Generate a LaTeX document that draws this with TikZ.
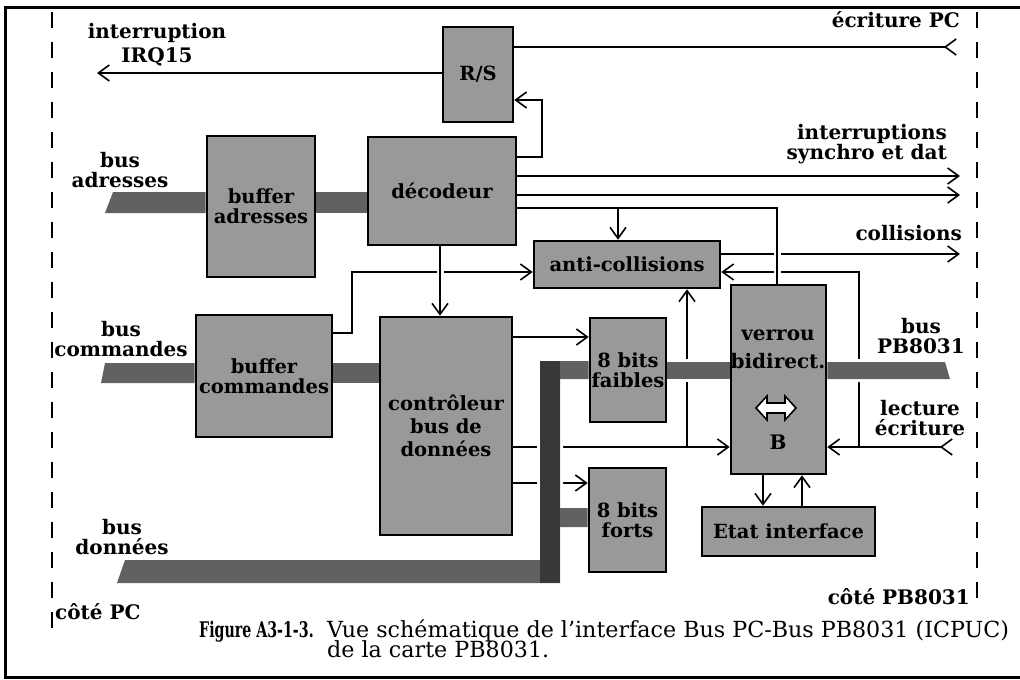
\documentclass[tikz,border=0pt]{standalone}
\usepackage{fontspec}
\setmainfont{DejaVu Serif}
\usepackage{tikz}
\usetikzlibrary{arrows.meta, positioning, backgrounds}
\definecolor{blkc}{gray}{0.60}
\definecolor{busc}{gray}{0.38}
\definecolor{busdk}{gray}{0.22}

\begin{document}
\begin{tikzpicture}[x=1pt, y=-1pt,
    sbarb/.tip={Straight Barb[length=11pt, width=16pt]},
    rbarb/.tip={Straight Barb[reversed, length=11pt, width=16pt]},
    blk/.style={draw, line width=2.6pt, fill=blkc, inner sep=0pt, align=center,
      font=\fontsize{19.5}{20}\selectfont\bfseries},
    lab/.style={inner sep=0pt, align=center, font=\fontsize{20}{20}\selectfont\bfseries},
    wire/.style={line width=1.6pt},
    sig/.style={wire, -sbarb},
    hop/.style={preaction={draw=white, line width=7pt, -, shorten <=12pt, shorten >=8pt}},
    bus/.style={fill=busc, preaction={draw=white, line width=6pt}}]
  \useasboundingbox (0,0) rectangle (1020,680);
  % frame and the two sides
  \draw[line width=3pt] (1030,7) -- (5,7) -- (5,677) -- (1030,677);
  \draw[line width=2pt, dash pattern=on 16pt off 14pt] (52,12) -- (52,640);
  \draw[line width=2pt, dash pattern=on 16pt off 14pt] (977,12) -- (977,606);

  % blocks
  \node[blk, minimum width=70pt, minimum height=95pt] (rs) at (478,74.5) {R/S};
  \node[blk, minimum width=108pt, minimum height=141pt] (bufa) at (261,206.5) {buffer\\adresses};
  \node[blk, minimum width=148pt, minimum height=108pt] (dec) at (442,191) {décodeur};
  \node[blk, minimum width=186pt, minimum height=47pt] (anti) at (627,264.5) {anti-collisions};
  \node[blk, minimum width=136pt, minimum height=122pt] (bufc) at (264,376) {buffer\\commandes};
  \node[blk, minimum width=132pt, minimum height=218pt] (ctrl) at (446,426) {contrôleur\\[3pt]bus de\\[3pt]données};
  \node[blk, minimum width=76pt, minimum height=104pt] (faib) at (628,370) {8 bits\\faibles};
  \node[blk, minimum width=77pt, minimum height=104pt] (fort) at (627.5,520) {8 bits\\forts};
  \node[blk, minimum width=95pt, minimum height=189pt] (ver) at (778.5,379.5) {};
  \node[blk, minimum width=173pt, minimum height=49pt] (etat) at (788.5,531.5) {Etat interface};
  % inside the latch
  \node[lab] (vertxt) at (778,349) {verrou\\[8pt]bidirect.};
  \draw[line width=1.6pt, fill=white] (756,408) -- (767,396) -- (767,403) -- (785,403)
    -- (785,396) -- (796,408) -- (785,420) -- (785,413) -- (767,413) -- (767,420) -- cycle;
  \node[lab] (vb) at (778,442) {B};

  % labels
  \node[lab] (lirq) at (157,45) {interruption\\[4pt]IRQ15};
  \node[lab, anchor=east] (lecr) at (960,20) {écriture PC};
  \node[lab, align=right, anchor=east] (lint) at (947,144) {interruptions\\synchro et dat};
  \node[lab, anchor=east] (lcol) at (962,233) {collisions};
  \node[lab] (lpb) at (921,336) {bus\\PB8031};
  \node[lab] (llec) at (920,418) {lecture\\écriture};
  \node[lab] (lbad) at (120,170) {bus\\adresses};
  \node[lab] (lbcm) at (121,339) {bus\\commandes};
  \node[lab] (lbdo) at (122,537) {bus\\données};
  \node[lab, anchor=west] (lcpc) at (55,612) {côté PC};
  \node[lab, anchor=east] (lcpb) at (970,597) {côté PB8031};
  % caption
  \node[anchor=base west, inner sep=0pt, font=\bfseries\fontsize{21.5}{20}\selectfont] (figno) at (199,637) {\scalebox{0.66}[1]{Figure A3-1-3.}};
  \node[anchor=base west, inner sep=0pt, font=\fontsize{22.2}{20}\selectfont] (figcap1) at (327,637) {Vue schématique de l'interface Bus PC-Bus PB8031 (ICPUC)};
  \node[anchor=base west, inner sep=0pt, font=\fontsize{22.2}{20}\selectfont] (figcap2) at (327,657) {de la carte PB8031.};

  \begin{scope}[on background layer]
    % free ends and junctions
    \coordinate (irq) at (97,73);
    \coordinate (ecr) at (957,47);
    \coordinate (int1) at (960,176);
    \coordinate (int2) at (960,195);
    \coordinate (col) at (960,254);
    \coordinate (lec) at (953,447);
    \coordinate (jdec) at (618,208);
    \coordinate (jlec) at (859,447);
    \coordinate (jctl) at (687,447);
    % signals
    \draw[sig] (rs.west |- irq) -- (irq);
    \draw[wire, rbarb-] (ecr) -- (rs.east |- ecr);
    \draw[sig] (dec.east |- 0,157) -| (542,100) -- (rs.east |- 0,100);
    \draw[sig] (dec.east |- int1) -- (int1);
    \draw[sig] (dec.east |- int2) -- (int2);
    \draw[sig] (bufc.east |- 0,333) -| (352,272) -- (anti.west |- 0,272);
    \draw[sig] (anti.east |- col) -- (col);
    \draw[wire, rbarb-sbarb] (lec) -- (ver.east |- lec);
    \draw[sig] (jlec) |- (anti.east |- 0,272);
    \draw[sig] (ctrl.east |- 0,337) -- (faib.west |- 0,337);
    \draw[sig] (ctrl.east |- jctl) -- (ver.west |- jctl);
    \draw[sig] (jctl) -- (anti.south -| jctl);
    \draw[sig] (ctrl.east |- 0,483) -- (fort.west |- 0,483);
    \draw[sig] (ver.south -| 763,0) -- (etat.north -| 763,0);
    \draw[sig] (etat.north -| 802,0) -- (ver.south -| 802,0);
    % lines that jump over others
    \draw[sig, hop] (dec.south -| 440,0) -- (ctrl.north -| 440,0);
    \draw[wire, hop] (dec.east |- jdec) -| (ver.north -| 777,0);
    \draw[sig] (jdec) -- (anti.north -| jdec);
    % buses
    \fill[bus] (113,192) -- (bufa.west |- 0,192) -- (bufa.west |- 0,213) -- (105,213) -- cycle;
    \fill[bus] (bufa.east |- 0,192) rectangle (dec.west |- 0,213);
    \fill[bus] (105,363) -- (bufc.west |- 0,363) -- (bufc.west |- 0,383) -- (101,383) -- cycle;
    \fill[bus] (bufc.east |- 0,363) rectangle (ctrl.west |- 0,383);
    \fill[bus] (117,583) -- (125,560) -- (540,560) -- (540,361) -- (faib.west |- 0,361)
      -- (faib.west |- 0,379) -- (560,379) -- (560,508) -- (fort.west |- 0,508)
      -- (fort.west |- 0,527) -- (560,527) -- (560,583) -- cycle;
    \fill[busdk] (540,361) rectangle (560,583);
    \fill[bus] (faib.east |- 0,362) rectangle (ver.west |- 0,379);
    \fill[bus] (ver.east |- 0,362) -- (945,362) -- (950,379) -- (ver.east |- 0,379) -- cycle;
  \end{scope}
\end{tikzpicture}
\end{document}
